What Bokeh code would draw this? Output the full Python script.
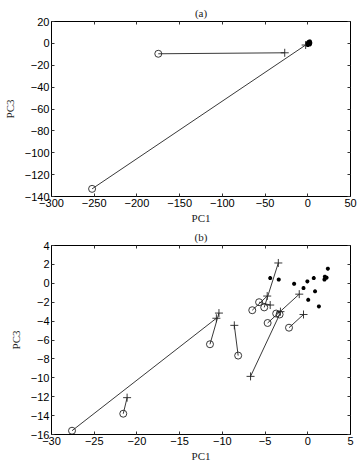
from bokeh.plotting import figure
from bokeh.layouts import column
from bokeh.models import LinearAxis, FixedTicker, Range1d
from bokeh.embed import file_html
from bokeh.resources import INLINE

# ---------- data (a) ----------
a_circ_x = [-175.0, -252.5]
a_circ_y = [-9.5, -133.0]
a_plus_x = [-27.0, -2.5]
a_plus_y = [-8.6, -1.5]
a_star_x = [0.5, 1.5, 2.5, 3.0, 1.0, 2.0, -0.5, 0.0, 2.5, 1.5]
a_star_y = [1.0, 1.5, 1.8, 0.5, -0.5, 0.0, 0.0, -1.5, -1.0, 0.8]
a_xticks = [-300, -250, -200, -150, -100, -50, 0, 50]
a_yticks = [-140, -120, -100, -80, -60, -40, -20, 0, 20]

# ---------- data (b) ----------
b_circ_x = [-27.6, -11.45, -21.6, -8.15, -5.1, -6.5, -5.7, -3.3, -3.7, -4.7, -2.2]
b_circ_y = [-15.6, -6.45, -13.8, -7.65, -2.55, -2.85, -2.0, -3.3, -3.2, -4.2, -4.7]
b_plus_x = [-10.7, -10.4, -21.15, -8.6, -3.45, -4.75, -4.4, -6.7, -3.2, -1.0, -0.5]
b_plus_y = [-3.7, -3.15, -12.1, -4.45, 2.15, -1.35, -2.3, -9.85, -3.0, -1.15, -3.3]
b_star_x = [-4.4, -3.4, -1.6, -0.05, 0.7, -0.5, 0.85, 0.05, 1.3, 1.95, 2.2, 2.35, 2.0]
b_star_y = [0.55, 0.4, -0.05, 0.2, 0.55, -0.5, -0.85, -1.75, -2.45, 0.4, 0.6, 1.55, 0.7]
b_xticks = [-30, -25, -20, -15, -10, -5, 0, 5]
b_yticks = [-16, -14, -12, -10, -8, -6, -4, -2, 0, 2, 4]

TICK_FONT = "Liberation Sans"
LAB_FONT = "Liberation Serif"


def style_axis(ax, ticks, show_labels=True):
    ax.ticker = FixedTicker(ticks=ticks)
    ax.major_tick_in = 3
    ax.major_tick_out = 0
    ax.minor_tick_line_color = None
    ax.axis_line_color = "black"
    ax.major_tick_line_color = "#333333"
    ax.major_label_text_font = TICK_FONT
    if show_labels:
        ax.major_label_text_font_size = "11px"
        ax.major_label_text_color = "black"
        ax.major_label_standoff = 2
    else:
        ax.major_label_text_font_size = "0px"
        ax.major_label_text_color = None
        ax.major_label_standoff = 0
    ax.axis_label_text_font = LAB_FONT
    ax.axis_label_text_font_style = "normal"
    ax.axis_label_text_font_size = "11px"
    ax.axis_label_text_color = "#222222"
    ax.axis_label_standoff = 3


def make(xr, yr, xticks, yticks, w, h, top, title, cx, cy, px, py, sx, sy):
    p = figure(width=w, height=h, x_range=Range1d(*xr), y_range=Range1d(*yr),
               output_backend="svg", toolbar_location=None,
               min_border_left=50, min_border_right=7, min_border_top=top,
               min_border_bottom=30)
    p.grid.visible = False
    p.outline_line_color = "black"
    p.background_fill_color = "white"
    style_axis(p.xaxis[0], xticks)
    style_axis(p.yaxis[0], yticks)
    p.xaxis.axis_label = "PC1"
    p.xaxis.axis_label_standoff = 2
    p.yaxis.axis_label = "PC3"
    p.yaxis.axis_label_standoff = 6
    ra = LinearAxis()
    style_axis(ra, yticks, show_labels=False)
    p.add_layout(ra, "right")
    ta = LinearAxis(axis_label=title)
    style_axis(ta, xticks, show_labels=False)
    ta.axis_label_standoff = 3
    p.add_layout(ta, "above")
    p.segment(x0=cx, y0=cy, x1=px, y1=py, line_color="#222222", line_width=0.9)
    p.scatter(cx, cy, marker="circle", size=7, fill_color=None,
              line_color="#222222", line_width=0.9)
    p.scatter(px, py, marker="cross", size=8, line_color="#222222", line_width=0.9)
    p.scatter(sx, sy, marker="asterisk", size=4, line_color="black", line_width=1.3)
    return p


p1 = make((-300, 50), (-140, 20), a_xticks, a_yticks, 357, 226, 21, "(a)",
          a_circ_x, a_circ_y, a_plus_x, a_plus_y, a_star_x, a_star_y)
p2 = make((-30, 5), (-16, 4), b_xticks, b_yticks, 357, 238, 19, "(b)",
          b_circ_x, b_circ_y, b_plus_x, b_plus_y, b_star_x, b_star_y)

layout = column(p1, p2, spacing=0)
open("out.html", "w").write(file_html(layout, INLINE))
